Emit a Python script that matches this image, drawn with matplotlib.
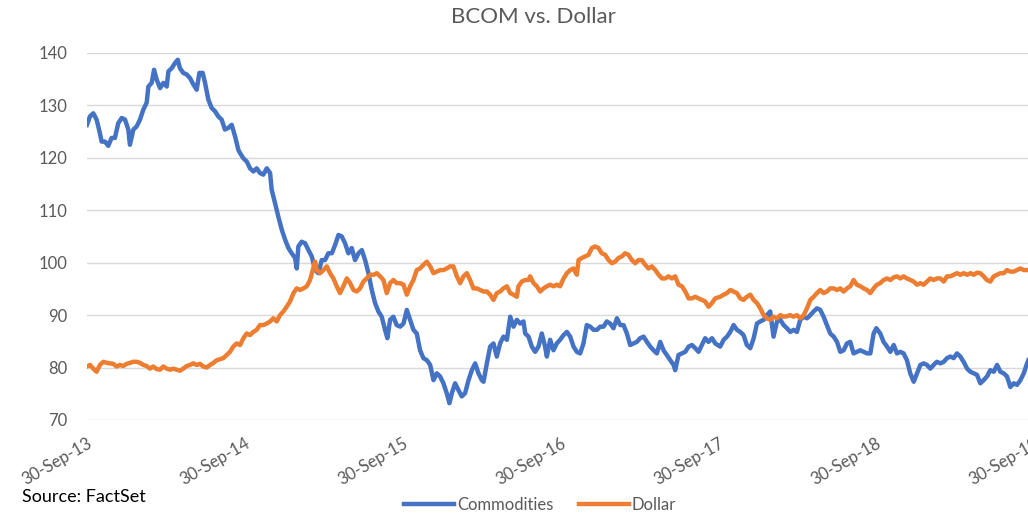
import matplotlib
matplotlib.use("Agg")
import matplotlib.pyplot as plt
import matplotlib.dates as mdates
import numpy as np
import pandas as pd

plt.rcParams['font.family'] = ['Lato', 'DejaVu Sans']

START = pd.Timestamp('2013-09-30')

# years since 30-Sep-13 and index level
com_t = [0.000, 0.019, 0.040, 0.061, 0.082, 0.093, 0.114, 0.135, 0.156, 0.177,
         0.198, 0.220, 0.241, 0.262, 0.272, 0.294, 0.315, 0.336, 0.357, 0.378,
         0.389, 0.410, 0.425, 0.442, 0.463, 0.484, 0.505, 0.516, 0.537, 0.558,
         0.575, 0.589, 0.610, 0.632, 0.653, 0.674, 0.695, 0.712, 0.733, 0.748,
         0.769, 0.790, 0.811, 0.832, 0.853, 0.874, 0.895, 0.917, 0.938, 0.959,
         0.970, 0.991, 1.012, 1.033, 1.054, 1.075, 1.096, 1.117, 1.139, 1.160,
         1.170, 1.191, 1.212, 1.234, 1.255, 1.276, 1.297, 1.318, 1.329, 1.339,
         1.360, 1.382, 1.403, 1.424, 1.445, 1.466, 1.487, 1.508, 1.529, 1.551,
         1.572, 1.593, 1.614, 1.635, 1.656, 1.677, 1.698, 1.720, 1.741, 1.762,
         1.783, 1.804, 1.825, 1.846, 1.867, 1.888, 1.903, 1.920, 1.941, 1.962,
         1.984, 2.005, 2.026, 2.047, 2.068, 2.089, 2.110, 2.131, 2.153, 2.174,
         2.195, 2.216, 2.237, 2.258, 2.279, 2.296, 2.311, 2.332, 2.353, 2.374,
         2.395, 2.417, 2.438, 2.459, 2.480, 2.501, 2.512, 2.533, 2.554, 2.575,
         2.596, 2.617, 2.638, 2.660, 2.681, 2.702, 2.723, 2.744, 2.765, 2.776,
         2.797, 2.818, 2.839, 2.860, 2.881, 2.902, 2.913, 2.934, 2.955, 2.976,
         2.997, 3.019, 3.040, 3.061, 3.082, 3.103, 3.124, 3.145, 3.166, 3.188,
         3.209, 3.230, 3.251, 3.272, 3.293, 3.314, 3.335, 3.357, 3.378, 3.399,
         3.420, 3.441, 3.462, 3.483, 3.504, 3.526, 3.547, 3.568, 3.589, 3.610,
         3.631, 3.652, 3.673, 3.695, 3.716, 3.726, 3.747, 3.769, 3.790, 3.811,
         3.832, 3.853, 3.874, 3.895, 3.916, 3.937, 3.959, 3.980,
         4.011, 4.033, 4.054, 4.075, 4.096, 4.117, 4.138, 4.159, 4.180, 4.202,
         4.223, 4.244, 4.265, 4.286, 4.307, 4.328, 4.349, 4.371, 4.392, 4.413,
         4.434, 4.455, 4.476, 4.497, 4.518, 4.540, 4.561, 4.582, 4.603, 4.624,
         4.645, 4.666, 4.687, 4.708, 4.730, 4.751, 4.772, 4.793, 4.814, 4.835,
         4.856, 4.877, 4.899, 4.920, 4.941,
         4.962, 4.983, 5.000, 5.025, 5.046, 5.068, 5.089, 5.110, 5.131, 5.152,
         5.173, 5.194, 5.215, 5.237, 5.258, 5.279, 5.300, 5.321, 5.342, 5.363,
         5.384, 5.406, 5.427, 5.448, 5.469, 5.490, 5.511, 5.532, 5.553, 5.575,
         5.596, 5.617, 5.638, 5.659, 5.680, 5.701, 5.722, 5.744, 5.765, 5.786,
         5.807, 5.828, 5.849, 5.870, 5.891, 5.913, 5.934, 5.955, 5.963]
com_v = [126.3, 127.9, 128.5, 127.3, 124.7, 123.1, 123.1, 122.3, 123.8, 123.8,
         126.6, 127.6, 127.3, 125.4, 122.5, 125.4, 126.0, 127.3, 129.2, 130.5,
         133.6, 134.3, 136.8, 134.9, 133.3, 134.3, 133.6, 136.5, 137.1, 138.1,
         138.7, 137.1, 136.2, 135.9, 135.2, 134.0, 133.0, 136.2, 136.2, 134.3,
         131.1, 129.5, 128.9, 127.9, 127.3, 125.4, 125.7, 126.3, 124.1, 121.5,
         120.9, 119.9, 119.3, 118.0, 117.4, 118.0, 117.1, 116.8, 118.0, 117.1,
         113.9, 111.4, 108.8, 106.3, 104.4, 102.8, 101.8, 100.9, 98.9, 103.1,
         104.0, 103.7, 102.4, 101.2, 98.6, 98.0, 100.5, 100.5, 101.8, 101.8,
         103.4, 105.3, 105.0, 103.7, 101.8, 102.8, 100.5, 101.8, 102.4, 100.5,
         98.0, 94.8, 92.3, 90.7, 89.7, 87.2, 85.6, 89.1, 89.7, 88.1,
         87.8, 88.4, 91.0, 89.1, 87.2, 86.5, 83.3, 81.8, 81.4, 80.5,
         77.6, 78.9, 78.3, 77.0, 75.1, 73.2, 75.1, 77.0, 75.7, 74.5,
         75.1, 77.6, 79.5, 80.8, 78.9, 77.6, 77.3, 80.8, 84.0, 84.6,
         82.1, 84.6, 85.9, 85.3, 89.7, 87.8, 89.1, 88.4, 88.8, 86.5,
         85.9, 84.0, 83.0, 84.0, 86.5, 84.0, 82.1, 85.3, 83.3, 84.6,
         85.3, 86.2, 86.8, 85.9, 84.0, 83.0, 82.7, 84.6, 88.1, 87.8,
         87.2, 87.2, 87.8, 87.8, 88.8, 88.4, 87.5, 89.4, 88.1, 88.1,
         86.5, 84.3, 84.6, 84.9, 85.6, 85.9, 84.9, 84.0, 83.3, 82.7,
         84.9, 83.3, 82.4, 81.4, 80.5, 79.5, 82.4, 82.7, 83.0, 84.0,
         84.3, 83.7, 83.0, 84.3, 85.6, 84.9, 85.6, 84.6,
         84.0, 85.3, 85.9, 86.8, 88.1, 87.2, 86.8, 86.2, 84.3, 83.7,
         85.6, 88.4, 88.8, 89.1, 90.0, 90.7, 85.9, 88.8, 89.1, 88.1,
         87.5, 86.8, 87.2, 86.8, 89.1, 89.7, 89.4, 90.0, 90.7, 91.3,
         91.0, 89.7, 88.1, 86.5, 85.9, 84.9, 83.0, 83.3, 84.6, 84.9,
         82.7, 83.0, 83.3, 83.0, 82.7,
         82.7, 86.5, 87.5, 86.5, 84.9, 84.0, 83.0, 84.3, 82.7, 83.0,
         82.7, 81.4, 78.9, 77.3, 78.9, 80.5, 80.8, 80.5, 79.8, 80.5,
         81.1, 80.8, 81.1, 81.8, 82.1, 81.8, 82.7, 82.1, 81.1, 79.8,
         79.2, 78.9, 78.6, 77.0, 77.6, 78.3, 79.5, 79.2, 80.5, 79.2,
         78.9, 78.3, 76.3, 77.0, 76.7, 77.6, 78.9, 80.8, 81.4]

usd_t = [0.000, 0.019, 0.040, 0.061, 0.082, 0.104, 0.125, 0.146, 0.167, 0.188,
         0.209, 0.230, 0.251, 0.272, 0.294, 0.315, 0.336, 0.357, 0.378, 0.399,
         0.420, 0.442, 0.463, 0.484, 0.505, 0.526, 0.547, 0.568, 0.589, 0.610,
         0.632, 0.653, 0.674, 0.695, 0.716, 0.737, 0.758, 0.780, 0.801, 0.822,
         0.843, 0.864, 0.885, 0.906, 0.927, 0.948,
         0.970, 0.991, 1.012, 1.033, 1.054, 1.075, 1.096, 1.117, 1.139, 1.160,
         1.181, 1.202, 1.223, 1.244, 1.265, 1.286, 1.308, 1.329, 1.350, 1.371,
         1.392, 1.413, 1.430, 1.445, 1.455, 1.477, 1.498, 1.519, 1.540, 1.561,
         1.582, 1.603, 1.624, 1.646, 1.667, 1.688, 1.709, 1.730, 1.751, 1.772,
         1.793, 1.815, 1.836, 1.857, 1.878, 1.899, 1.920, 1.941, 1.962,
         1.984, 2.005, 2.026, 2.047, 2.068, 2.089, 2.110, 2.131, 2.153, 2.174,
         2.195, 2.216, 2.237, 2.258, 2.279, 2.300, 2.321, 2.343, 2.364, 2.385,
         2.406, 2.427, 2.448, 2.469, 2.491, 2.512, 2.533, 2.554, 2.575, 2.596,
         2.617, 2.638, 2.660, 2.681, 2.702, 2.723, 2.733, 2.754, 2.776, 2.797,
         2.807, 2.829, 2.850, 2.871, 2.892, 2.913, 2.934, 2.955, 2.976,
         2.997, 3.019, 3.040, 3.061, 3.082, 3.103, 3.114, 3.135, 3.156, 3.177,
         3.198, 3.219, 3.240, 3.261, 3.283, 3.304, 3.325, 3.346, 3.367, 3.388,
         3.409, 3.430, 3.452, 3.473, 3.494, 3.515, 3.536, 3.557, 3.578, 3.600,
         3.621, 3.642, 3.663, 3.684, 3.705, 3.726, 3.747, 3.769, 3.790, 3.811,
         3.832, 3.853, 3.874, 3.895, 3.916, 3.937, 3.959, 3.980,
         4.011, 4.033, 4.054, 4.075, 4.096, 4.117, 4.138, 4.159, 4.180, 4.202,
         4.223, 4.244, 4.265, 4.286, 4.307, 4.328, 4.349, 4.371, 4.392, 4.413,
         4.434, 4.455, 4.476, 4.497, 4.518, 4.540, 4.561, 4.582, 4.603, 4.624,
         4.645, 4.666, 4.687, 4.708, 4.730, 4.751, 4.772, 4.793, 4.814, 4.835,
         4.856, 4.877, 4.899, 4.920, 4.941,
         4.962, 4.983, 5.004, 5.025, 5.046, 5.068, 5.089, 5.110, 5.131, 5.152,
         5.173, 5.194, 5.215, 5.237, 5.258, 5.279, 5.300, 5.321, 5.342, 5.363,
         5.384, 5.406, 5.427, 5.448, 5.469, 5.490, 5.511, 5.532, 5.553, 5.575,
         5.596, 5.617, 5.638, 5.659, 5.680, 5.701, 5.722, 5.744, 5.765, 5.786,
         5.807, 5.828, 5.849, 5.870, 5.891, 5.913, 5.934, 5.955]
usd_v = [80.2, 80.5, 79.8, 79.2, 80.5, 81.1, 80.9, 80.8, 80.7, 80.2,
         80.5, 80.3, 80.7, 80.9, 81.1, 81.1, 80.9, 80.5, 80.3, 79.8,
         80.2, 79.7, 79.6, 80.2, 79.8, 79.6, 79.8, 79.6, 79.4, 79.8,
         80.3, 80.5, 80.8, 80.5, 80.7, 80.2, 80.0, 80.5, 80.9, 81.4,
         81.6, 81.8, 82.4, 83.0, 84.0, 84.6,
         84.3, 85.6, 86.5, 86.2, 86.8, 87.2, 88.1, 88.1, 88.4, 88.8,
         89.4, 88.8, 90.0, 90.7, 91.6, 92.6, 94.2, 95.1, 94.8, 95.1,
         95.5, 96.7, 98.6, 100.2, 98.6, 98.0, 98.6, 99.3, 98.0, 97.0,
         95.5, 94.2, 95.5, 97.0, 96.1, 94.8, 94.5, 95.1, 96.4, 97.0,
         97.7, 97.7, 98.0, 97.4, 96.7, 94.2, 96.1, 96.7, 96.1,
         96.1, 95.8, 93.9, 95.5, 96.7, 98.6, 98.9, 99.6, 100.2, 99.3,
         98.0, 98.3, 98.6, 98.6, 98.9, 99.3, 99.3, 97.4, 96.1, 97.4,
         98.0, 96.7, 95.1, 95.1, 94.8, 94.5, 94.5, 93.9, 92.9, 94.2,
         94.5, 95.1, 95.5, 94.2, 93.9, 93.5, 95.5, 96.4, 96.7, 96.7,
         97.4, 96.1, 95.5, 94.5, 95.1, 95.5, 95.8, 95.5, 95.8,
         95.5, 97.0, 98.0, 98.6, 98.9, 97.7, 100.5, 100.9, 101.2, 101.5,
         102.8, 103.1, 102.8, 101.8, 101.5, 100.5, 99.9, 100.2, 100.9, 101.2,
         101.8, 101.5, 100.5, 99.9, 100.5, 100.5, 99.6, 98.9, 99.3, 98.6,
         97.7, 97.0, 97.0, 97.4, 97.0, 97.4, 95.8, 95.5, 94.5, 93.2,
         93.2, 93.5, 93.2, 92.9, 92.6, 91.6, 92.3, 93.2,
         93.5, 93.9, 94.2, 94.8, 94.5, 94.2, 93.2, 92.9, 93.5, 93.9,
         92.9, 92.3, 91.3, 90.0, 89.4, 89.1, 89.7, 89.4, 90.0, 89.7,
         89.8, 90.0, 89.7, 90.0, 89.4, 90.0, 91.3, 92.9, 93.5, 94.2,
         94.8, 94.2, 94.5, 95.1, 95.1, 94.8, 95.1, 94.5, 95.1, 95.5,
         96.7, 95.8, 95.5, 95.1, 94.8,
         94.2, 95.1, 95.8, 96.1, 96.7, 97.0, 96.7, 97.2, 97.4, 97.0,
         97.4, 97.0, 96.7, 96.4, 95.8, 96.1, 95.8, 96.4, 97.0, 96.7,
         97.0, 97.0, 96.4, 97.4, 97.4, 97.7, 98.0, 97.7, 98.0, 97.7,
         98.0, 97.7, 98.1, 98.0, 97.4, 96.7, 96.4, 97.4, 97.7, 98.0,
         98.0, 98.6, 98.3, 98.3, 98.6, 98.9, 98.6, 98.6]

tick_dates = ['2013-09-30', '2014-09-30', '2015-09-30', '2016-09-30',
              '2017-09-30', '2018-09-30', '2019-09-30']


def to_dates(t):
    return START + pd.to_timedelta(np.array(t) * 365.25, unit='D')


grey = '#595959'
fig = plt.figure(figsize=(10.28, 5.13), dpi=100)
ax = fig.add_axes([0.0846, 0.1813, 0.9212, 0.7154])

ax.plot(to_dates(com_t), com_v, color='#4472C4', lw=3.2, label='Commodities',
        solid_joinstyle='round')
ax.plot(to_dates(usd_t), usd_v, color='#ED7D31', lw=3.2, label='Dollar',
        solid_joinstyle='round')

ax.set_ylim(70, 140)
ax.set_yticks(range(70, 141, 10))
ax.set_xlim(pd.Timestamp(tick_dates[0]), pd.Timestamp(tick_dates[-1]))
ax.set_xticks([pd.Timestamp(d) for d in tick_dates])
ax.xaxis.set_major_formatter(mdates.DateFormatter('%d-%b-%y'))
ax.grid(axis='y', color='#D9D9D9', lw=1)
ax.set_axisbelow(True)
for s in ax.spines.values():
    s.set_visible(False)
ax.tick_params(axis='y', length=0, pad=14, labelsize=12, labelcolor=grey)
ax.tick_params(axis='x', length=0, pad=11, labelsize=12, labelcolor=grey)
for lab in ax.get_xticklabels():
    lab.set_rotation(30)
    lab.set_ha('right')
    lab.set_rotation_mode('anchor')

fig.text(533 / 1028, 1 - 17 / 513, 'BCOM vs. Dollar', ha='center', va='center',
         fontsize=16, color=grey)
fig.text(22 / 1028, 1 - 497 / 513, 'Source: FactSet', ha='left', va='center',
         fontsize=13, color='black')
fig.legend(loc='center', bbox_to_anchor=(540 / 1028, 1 - 505 / 513), ncol=2,
           frameon=False, fontsize=12, handlelength=3.0, columnspacing=1.5,
           handletextpad=0.2, labelcolor=grey)

fig.savefig('out.png', dpi=100)
